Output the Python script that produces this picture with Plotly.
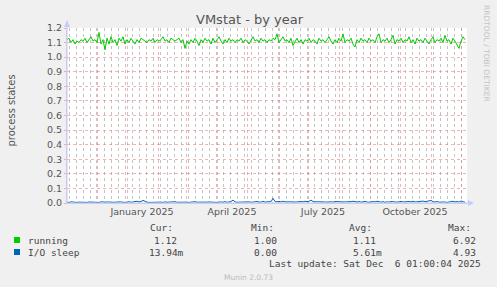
import pandas as pd
import plotly.graph_objects as go

# ---------------- data ----------------
start_date = "2024-11-02"
end_date = "2025-12-07"
step = "2D"

running = [
    1.12, 1.13, 1.10, 1.12, 1.09, 1.11, 1.10, 1.12, 1.11, 1.13,
    1.10, 1.12, 1.14, 1.11, 1.12, 1.10, 1.17, 1.09, 1.12, 1.05,
    1.13, 1.09, 1.14, 1.10, 1.12, 1.08, 1.13, 1.11, 1.14, 1.09,
    1.12, 1.10, 1.13, 1.11, 1.09, 1.12, 1.10, 1.13, 1.12, 1.11,
    1.10, 1.12, 1.11, 1.13, 1.10, 1.12, 1.11, 1.12, 1.14, 1.11,
    1.12, 1.10, 1.13, 1.12, 1.11, 1.12, 1.13, 1.10, 1.12, 1.06,
    1.11, 1.09, 1.12, 1.10, 1.13, 1.11, 1.08, 1.12, 1.10, 1.13,
    1.11, 1.12, 1.09, 1.13, 1.10, 1.12, 1.14, 1.11, 1.09, 1.12,
    1.10, 1.13, 1.11, 1.12, 1.10, 1.12, 1.11, 1.13, 1.10, 1.12,
    1.11, 1.09, 1.12, 1.14, 1.11, 1.12, 1.10, 1.13, 1.11, 1.12,
    1.10, 1.12, 1.11, 1.13, 1.12, 1.16, 1.10, 1.12, 1.14, 1.11,
    1.12, 1.10, 1.13, 1.08, 1.11, 1.13, 1.10, 1.12, 1.09, 1.12,
    1.11, 1.13, 1.10, 1.12, 1.11, 1.09, 1.13, 1.11, 1.12, 1.10,
    1.12, 1.14, 1.11, 1.09, 1.12, 1.10, 1.13, 1.11, 1.16, 1.10,
    1.12, 1.11, 1.13, 1.09, 1.07, 1.12, 1.10, 1.13, 1.11, 1.12,
    1.10, 1.13, 1.11, 1.12, 1.10, 1.14, 1.16, 1.10, 1.12, 1.11,
    1.13, 1.10, 1.12, 1.15, 1.09, 1.12, 1.11, 1.13, 1.10, 1.12,
    1.11, 1.14, 1.10, 1.12, 1.09, 1.13, 1.11, 1.12, 1.10, 1.13,
    1.11, 1.09, 1.12, 1.14, 1.10, 1.12, 1.11, 1.13, 1.10, 1.15,
    1.11, 1.12, 1.09, 1.13, 1.11, 1.08, 1.06, 1.11, 1.14, 1.12,
]

io_sleep = [
    0.006, 0.004, 0.008, 0.005, 0.007, 0.004, 0.006, 0.005, 0.009, 0.005,
    0.004, 0.007, 0.006, 0.010, 0.005, 0.006, 0.004, 0.008, 0.005, 0.006,
    0.007, 0.004, 0.006, 0.005, 0.003, 0.006, 0.008, 0.005, 0.007, 0.004,
    0.006, 0.009, 0.005, 0.007, 0.006, 0.012, 0.008, 0.010, 0.018, 0.009,
    0.006, 0.004, 0.005, 0.007, 0.006, 0.009, 0.005, 0.006, 0.004, 0.008,
    0.005, 0.007, 0.004, 0.006, 0.009, 0.005, 0.006, 0.008, 0.005, 0.007,
    0.006, 0.004, 0.007, 0.005, 0.009, 0.006, 0.005, 0.008, 0.006, 0.004,
    0.006, 0.007, 0.005, 0.008, 0.006, 0.004, 0.007, 0.005, 0.006, 0.009,
    0.005, 0.007, 0.010, 0.020, 0.008, 0.005, 0.006, 0.007, 0.005, 0.009,
    0.006, 0.008, 0.005, 0.007, 0.006, 0.010, 0.007, 0.005, 0.012, 0.006,
    0.008, 0.007, 0.009, 0.032, 0.010, 0.008, 0.011, 0.007, 0.012, 0.008,
    0.009, 0.007, 0.010, 0.008, 0.006, 0.009, 0.007, 0.010, 0.008, 0.012,
    0.009, 0.011, 0.020, 0.010, 0.008, 0.009, 0.007, 0.010, 0.008, 0.006,
    0.009, 0.007, 0.008, 0.006, 0.010, 0.007, 0.009, 0.008, 0.006, 0.009,
    0.007, 0.010, 0.008, 0.012, 0.009, 0.007, 0.010, 0.006, 0.008, 0.011,
    0.007, 0.005, 0.009, 0.006, 0.008, 0.012, 0.007, 0.006, 0.009, 0.005,
    0.008, 0.006, 0.010, 0.007, 0.009, 0.006, 0.008, 0.011, 0.007, 0.009,
    0.006, 0.010, 0.008, 0.012, 0.007, 0.009, 0.011, 0.008, 0.013, 0.009,
    0.010, 0.014, 0.018, 0.009, 0.007, 0.010, 0.006, 0.008, 0.005, 0.007,
    0.004, 0.006, 0.009, 0.012, 0.007, 0.010, 0.006, 0.014, 0.008, 0.006,
]

series_names = ["running", "I/O sleep"]
series_colors = ["#00CC00", "#0066B3"]
cur_vals = ["1.12", "13.94m"]
min_vals = ["1.00", "0.00"]
avg_vals = ["1.11", "5.61m"]
max_vals = ["6.92", "4.93"]
label_months = {"2025-01-01": "January 2025", "2025-04-01": "April 2025",
                "2025-07-01": "July 2025", "2025-10-01": "October 2025"}
y_ticks = [round(0.1 * i, 1) for i in range(13)]

dates = pd.date_range(start_date, periods=len(running), freq=step)

# ---------------- geometry helpers (pixels -> paper) ----------------
W, H = 497, 287
L, R, T, B = 67, 467, 28, 203


def px(x):
    return (x - L) / (R - L)


def py(y):
    return (B - y) / (B - T)


fig = go.Figure()
fig.add_trace(go.Scatter(x=dates, y=running, mode="lines", name=series_names[0],
                         line=dict(color=series_colors[0], width=1), showlegend=False))
fig.add_trace(go.Scatter(x=dates, y=io_sleep, mode="lines", name=series_names[1],
                         line=dict(color=series_colors[1], width=1), showlegend=False))

month_starts = pd.date_range("2024-12-01", end_date, freq="MS")
week_ticks = pd.date_range("2024-11-04", end_date, freq="7D")
tick_text = [label_months.get(d.strftime("%Y-%m-%d"), "") for d in month_starts]

grid_red = "rgba(232,120,120,0.55)"
grid_gray = "rgba(175,175,175,0.75)"
axis_col = "#C8CCF0"
text_col = "#555555"

fig.update_layout(
    width=W, height=H,
    margin=dict(l=L, r=W - R, t=T, b=H - B, pad=0),
    paper_bgcolor="#F0F0F0",
    plot_bgcolor="#FFFFFF",
    font=dict(family="DejaVu Sans", size=9.5, color=text_col),
    showlegend=False,
    xaxis=dict(
        range=[start_date, end_date],
        tickmode="array", tickvals=list(month_starts), ticktext=tick_text,
        ticklabelshift=15,
        showgrid=True, gridcolor=grid_red, griddash="dot", gridwidth=1,
        ticks="", showline=True, linecolor=axis_col, linewidth=1,
        zeroline=False,
        tickfont=dict(family="DejaVu Sans", size=9.5, color=text_col),
        minor=dict(tickmode="array", tickvals=list(week_ticks), showgrid=True,
                   gridcolor=grid_gray, griddash="dot", gridwidth=1, ticks=""),
    ),
    yaxis=dict(
        range=[0, 1.2],
        tickmode="array", tickvals=y_ticks, tickformat=".1f",
        showgrid=True, gridcolor=grid_red, griddash="dot", gridwidth=1,
        ticks="outside", ticklen=2, tickcolor=grid_red,
        showline=True, linecolor=axis_col, linewidth=1,
        zeroline=False,
        tickfont=dict(family="DejaVu Sans", size=9.5, color=text_col),
    ),
)

shapes = []
# axis extensions and arrows
shapes.append(dict(type="line", xref="paper", yref="paper", x0=px(67), x1=px(67),
                   y0=py(203), y1=py(25), line=dict(color=axis_col, width=1)))
shapes.append(dict(type="path", xref="paper", yref="paper",
                   path=f"M {px(64)} {py(27)} L {px(70)} {py(27)} L {px(67)} {py(20)} Z",
                   fillcolor="#C4CCFF", line=dict(width=0)))
shapes.append(dict(type="line", xref="paper", yref="paper", x0=px(67), x1=px(469),
                   y0=py(203), y1=py(203), line=dict(color=axis_col, width=1)))
shapes.append(dict(type="path", xref="paper", yref="paper",
                   path=f"M {px(468)} {py(200)} L {px(468)} {py(206)} L {px(474)} {py(203)} Z",
                   fillcolor="#C4CCFF", line=dict(width=0)))
# legend squares
for i, ycen in enumerate([240, 252]):
    shapes.append(dict(type="rect", xref="paper", yref="paper",
                       x0=px(14), x1=px(20), y0=py(ycen - 3), y1=py(ycen + 3),
                       fillcolor=series_colors[i], line=dict(width=0)))
fig.update_layout(shapes=shapes)

mono = dict(family="DejaVu Sans Mono", size=9.5, color="#444444")
ann = []


def add_text(text, x, y, font, xanchor="left", angle=0):
    ann.append(dict(text=text, x=px(x), y=py(y), xref="paper", yref="paper",
                    xanchor=xanchor, yanchor="middle", showarrow=False,
                    font=font, textangle=angle, borderpad=0))


add_text("VMstat - by year", 249.5, 19,
         dict(family="DejaVu Sans", size=13, color=text_col), xanchor="center")
add_text("process states", 11.5, 110,
         dict(family="DejaVu Sans", size=10, color=text_col), xanchor="center", angle=-90)
add_text("RRDTOOL / TOBI OETIKER", 487, 53,
         dict(family="DejaVu Sans", size=7.5, color="#C4C4C4"), xanchor="center", angle=90)

header_y = 227
for label, xl in zip(["Cur:", "Min:", "Avg:", "Max:"], [149, 250, 348, 447]):
    add_text(label, xl, header_y, mono)

row_y = [240, 252]
for i in range(2):
    add_text(series_names[i], 27, row_y[i], mono)
    add_text(cur_vals[i], 178 if not cur_vals[i].endswith("m") else 185, row_y[i], mono, xanchor="right")
    add_text(min_vals[i], 278, row_y[i], mono, xanchor="right")
    add_text(avg_vals[i], 377 if not avg_vals[i].endswith("m") else 383, row_y[i], mono, xanchor="right")
    add_text(max_vals[i], 477, row_y[i], mono, xanchor="right")

add_text("Last update: Sat Dec \u00a06 01:00:04 2025", 482, 263, mono, xanchor="right")
add_text("Munin 2.0.73", 248, 277, dict(family="DejaVu Sans", size=7.5, color="#BBBBBB"),
         xanchor="center")

fig.update_layout(annotations=ann)

fig.write_html("out.html")
